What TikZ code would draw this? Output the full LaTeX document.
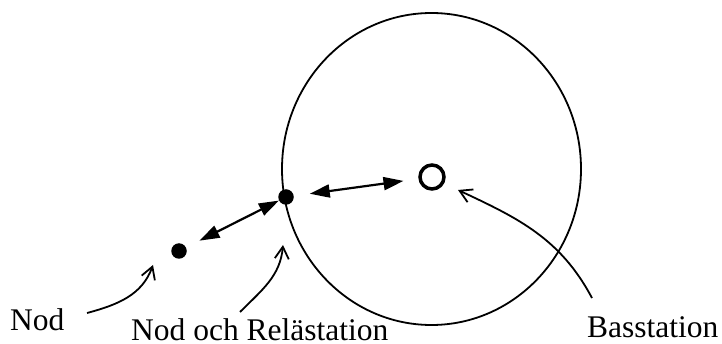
\documentclass[tikz,border=0pt]{standalone}
\usepackage{fontspec}
\setmainfont{Liberation Serif}
\usetikzlibrary{arrows.meta,shapes.geometric}
\begin{document}
\begin{tikzpicture}[x=1pt,y=1pt,
  dot/.style={circle,fill=black,inner sep=0pt,minimum size=15.5pt},
  hub/.style={circle,draw=black,line width=3.5pt,inner sep=0pt,minimum size=24pt},
  link/.style={line width=2.2pt,{Triangle[length=20pt,width=13pt]}-{Triangle[length=20pt,width=13pt]}},
  pointer/.style={line width=1.8pt,-{Straight Barb[length=12pt,width=14pt]}},
  lbl/.style={inner sep=0pt,anchor=base west,font=\fontsize{31.5}{38}\selectfont}]
\useasboundingbox (0,0) rectangle (722,-344);
\node[ellipse,draw,line width=1.8pt,minimum width=299pt,minimum height=312pt,inner sep=0pt] (cell) at (431.5,-169) {};
\node[dot] (leaf) at (179,-251) {};
\node[dot] (relay) at (286,-197) {};
\node[hub] (bs) at (432,-177) {};
\draw[link,shorten <=15pt] (leaf) -- (relay);
\draw[link,shorten <=16pt,shorten >=15pt] (relay) -- (bs);
\node[lbl] (tNod) at (10,-330) {Nod};
\node[lbl] (tRelay) at (131,-340) {Nod och Relästation};
\node[lbl] (tBas) at (587,-337) {Basstation};
\coordinate (p1s) at (87,-313);
\coordinate (p1e) at (153,-265);
\coordinate (p2s) at (240,-312);
\coordinate (p2e) at (283,-245);
\coordinate (p3s) at (592,-298);
\coordinate (p3e) at (458,-190);
\draw[pointer] (p1s) to[out=15,in=-110] (p1e);
\draw[pointer] (p2s) to[out=45,in=-95] (p2e);
\draw[pointer] (p3s) to[out=118,in=-25] (p3e);
\end{tikzpicture}
\end{document}
